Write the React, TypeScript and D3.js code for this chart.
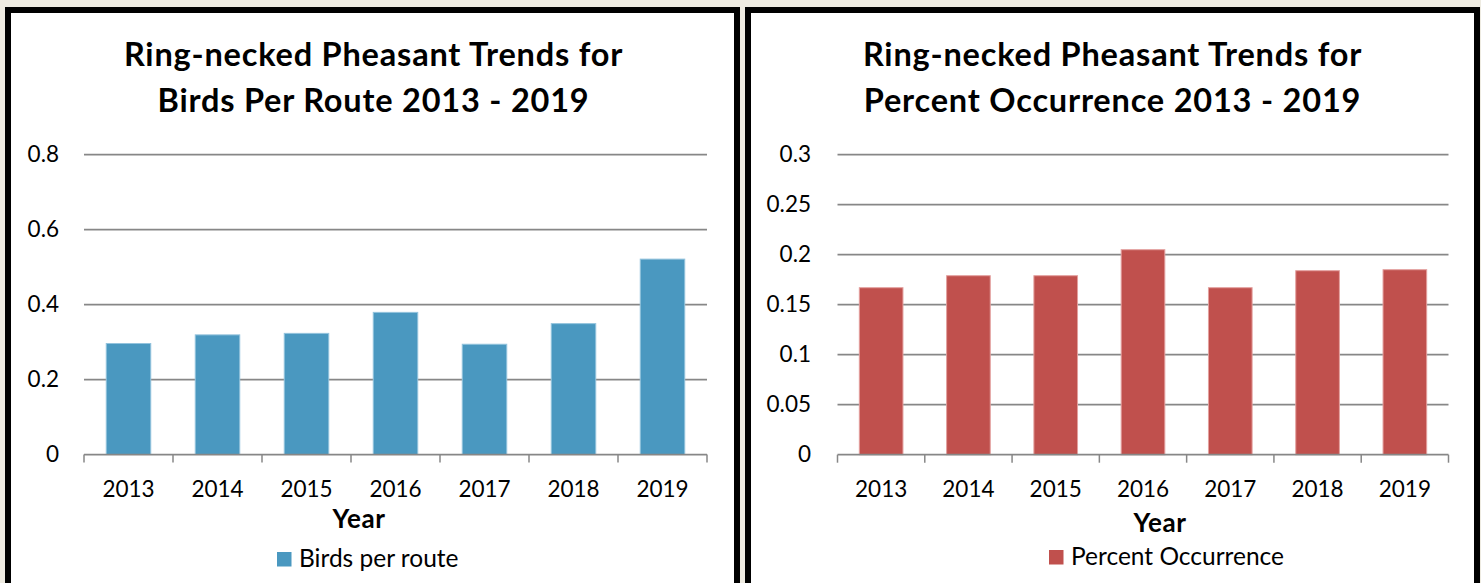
import React from 'react';
import * as d3 from 'd3';

const years = ['2013', '2014', '2015', '2016', '2017', '2018', '2019'];
const birdsPerRoute = [0.296, 0.319, 0.323, 0.379, 0.294, 0.349, 0.521];
const percentOccurrence = [0.167, 0.179, 0.179, 0.205, 0.167, 0.184, 0.185];
const birdsTicks = [0, 0.2, 0.4, 0.6, 0.8];
const birdsTickLabels = ['0', '0.2', '0.4', '0.6', '0.8'];
const pctTicks = [0, 0.05, 0.1, 0.15, 0.2, 0.25, 0.3];
const pctTickLabels = ['0', '0.05', '0.1', '0.15', '0.2', '0.25', '0.3'];

const FONT = 'Lato, "Open Sans", sans-serif';

type ChartProps = {
  values: number[];
  ticks: number[];
  tickLabels: string[];
  yMax: number;
  titleLines: string[];
  legend: string;
  fill: string;
  edge: string;
  x0: number;
  x1: number;
  yZero: number;
  yTop: number;
  yLabelRight: number;
  titleX: number;
  axisTitleX: number;
  axisTitleY: number;
  legendX: number;
  legendY: number;
};

function Chart(p: ChartProps) {
  const x = d3.scaleBand<string>().domain(years).range([p.x0, p.x1]).paddingInner(0.5).paddingOuter(0.25);
  const y = d3.scaleLinear().domain([0, p.yMax]).range([p.yZero, p.yTop]);
  const step = x.step();
  const boundaries = d3.range(years.length + 1).map((i) => p.x0 + i * step);
  return (
    <g>
      {p.titleLines.map((t, i) => (
        <text key={i} x={p.titleX} y={66 + i * 46} textAnchor="middle" fontFamily={FONT} fontWeight="bold" fontSize={32.5} letterSpacing={0.8} fill="#000">
          {t}
        </text>
      ))}
      {p.ticks.map((t, i) => (
        <g key={i}>
          {t > 0 && <line x1={p.x0} x2={p.x1} y1={y(t)} y2={y(t)} stroke="#878787" strokeWidth={1.75} />}
          <text x={p.yLabelRight} y={y(t) + 7.5} textAnchor="end" fontFamily={FONT} fontSize={22.5} fill="#000">
            {p.tickLabels[i]}
          </text>
        </g>
      ))}
      {p.values.map((v, i) => (
        <rect
          key={years[i]}
          x={x(years[i])}
          y={y(v)}
          width={x.bandwidth()}
          height={p.yZero - y(v)}
          fill={p.fill}
          stroke={p.edge}
          strokeWidth={1}
        />
      ))}
      <line x1={p.x0} x2={p.x1} y1={p.yZero} y2={p.yZero} stroke="#878787" strokeWidth={1.75} />
      {boundaries.map((b, i) => (
        <line key={i} x1={b} x2={b} y1={p.yZero} y2={p.yZero + 8} stroke="#878787" strokeWidth={1.5} />
      ))}
      {years.map((yr) => (
        <text key={yr} x={(x(yr) as number) + x.bandwidth() / 2} y={497} textAnchor="middle" fontFamily={FONT} fontSize={22.5} fill="#000">
          {yr}
        </text>
      ))}
      <text x={p.axisTitleX} y={p.axisTitleY} textAnchor="middle" fontFamily={FONT} fontWeight="bold" fontSize={26} letterSpacing={0.6} fill="#000">
        Year
      </text>
      <rect x={p.legendX} y={p.legendY - 15} width={14.5} height={14.5} fill={p.fill} />
      <text x={p.legendX + 22} y={p.legendY} fontFamily={FONT} fontSize={24.5} fill="#000">
        {p.legend}
      </text>
    </g>
  );
}

export default function App() {
  return (
    <svg width={1481} height={583} style={{ position: 'absolute', left: 0, top: 0, display: 'block' }}>
      <rect x={0} y={0} width={1481} height={583} fill="#EEEBE1" />
      <rect x={5} y={7} width={735} height={600} fill="#000" />
      <rect x={11} y={13} width={723} height={600} fill="#fff" />
      <rect x={745} y={7} width={735} height={600} fill="#000" />
      <rect x={751} y={13} width={723} height={600} fill="#fff" />
      <Chart
        values={birdsPerRoute}
        ticks={birdsTicks}
        tickLabels={birdsTickLabels}
        yMax={0.8}
        titleLines={['Ring-necked Pheasant Trends for', 'Birds Per Route 2013 - 2019']}
        legend="Birds per route"
        fill="#4A98C0"
        edge="#93C3DD"
        x0={84}
        x1={707}
        yZero={454.5}
        yTop={154.5}
        yLabelRight={59}
        titleX={373.5}
        axisTitleX={359}
        axisTitleY={528}
        legendX={277}
        legendY={567}
      />
      <Chart
        values={percentOccurrence}
        ticks={pctTicks}
        tickLabels={pctTickLabels}
        yMax={0.3}
        titleLines={['Ring-necked Pheasant Trends for', 'Percent Occurrence 2013 - 2019']}
        legend="Percent Occurrence"
        fill="#C0504D"
        edge="#E3A09E"
        x0={837.5}
        x1={1448.5}
        yZero={454.7}
        yTop={154.7}
        yLabelRight={811}
        titleX={1112.5}
        axisTitleX={1160}
        axisTitleY={532}
        legendX={1049}
        legendY={565}
      />
    </svg>
  );
}
